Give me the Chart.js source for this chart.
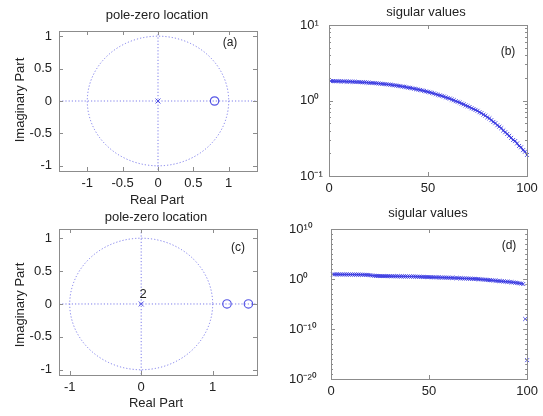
<!DOCTYPE html>
<html>
<head>
<meta charset="utf-8">
<script src="https://cdn.jsdelivr.net/npm/chart.js@4.4.1/dist/chart.umd.min.js"></script>
<style>
  body { margin: 0; background: #fff; }
  #wrap { position: relative; width: 543px; height: 416px; overflow: hidden; }
  #wrap canvas { position: absolute; left: 0; top: 0; }
</style>
</head>
<body>
<div id="wrap">
  <canvas id="pa" width="543" height="416"></canvas>
  <canvas id="pb" width="543" height="416"></canvas>
  <canvas id="pc" width="543" height="416"></canvas>
  <canvas id="pd" width="543" height="416"></canvas>
</div>
<script>
// pole-zero data
const polesA = [[0, 0]];
const zerosA = [[0.8, 0]];
const polesC = [[0, 0]];
const polesCOrder = ['2'];
const zerosC = [[1.2, 0], [1.5, 0]];

// singular values, index 1..100
const svB = [
  1.81, 1.81, 1.80, 1.80, 1.80, 1.79, 1.79, 1.79, 1.78, 1.78,
  1.78, 1.77, 1.77, 1.76, 1.76, 1.75, 1.74, 1.74, 1.73, 1.72,
  1.71, 1.71, 1.70, 1.69, 1.68, 1.67, 1.66, 1.65, 1.64, 1.63,
  1.62, 1.60, 1.59, 1.58, 1.56, 1.55, 1.53, 1.52, 1.50, 1.48,
  1.47, 1.45, 1.43, 1.41, 1.40, 1.38, 1.36, 1.34, 1.32, 1.30,
  1.28, 1.26, 1.24, 1.21, 1.19, 1.17, 1.15, 1.13, 1.10, 1.08,
  1.06, 1.03, 1.01, 0.98, 0.96, 0.94, 0.91, 0.89, 0.86, 0.84,
  0.82, 0.79, 0.77, 0.75, 0.73, 0.70, 0.68, 0.65, 0.63, 0.60,
  0.58, 0.55, 0.52, 0.50, 0.47, 0.45, 0.43, 0.40, 0.38, 0.36,
  0.34, 0.32, 0.30, 0.29, 0.27, 0.25, 0.24, 0.22, 0.21, 0.19
];
const svD = [
  8.5, 8.4, 8.4, 8.3, 8.2, 8.2, 8.1, 8.0, 7.9, 7.8,
  7.7, 7.6, 7.5, 7.4, 7.3, 7.1, 6.9, 6.7, 6.3, 5.8,
  5.0, 4.5, 4.2, 4.0, 3.9, 3.9, 3.8, 3.8, 3.7, 3.7,
  3.6, 3.6, 3.5, 3.5, 3.4, 3.4, 3.3, 3.3, 3.2, 3.2,
  3.1, 3.1, 3.0, 2.9, 2.8, 2.7, 2.6, 2.5, 2.5, 2.4,
  2.3, 2.3, 2.2, 2.1, 2.1, 2.0, 1.95, 1.9, 1.85, 1.8,
  1.75, 1.7, 1.6, 1.55, 1.5, 1.4, 1.35, 1.3, 1.25, 1.2,
  1.15, 1.1, 1.05, 1.0, 0.95, 0.88, 0.82, 0.76, 0.7, 0.64,
  0.6, 0.55, 0.5, 0.46, 0.42, 0.39, 0.36, 0.33, 0.3, 0.28,
  0.26, 0.23, 0.21, 0.18, 0.16, 0.14, 0.12, 0.1
];
const svDTailIdx = [99, 100];
const svDTail = [1e-8, 6e-17];

// tick labels
const ticksAX = [-1, -0.5, 0, 0.5, 1];
const ticksAY = [-1, -0.5, 0, 0.5, 1];
const ticksCX = [-1, 0, 1];
const ticksCY = [-1, -0.5, 0, 0.5, 1];
const ticksSvX = [0, 50, 100];
const ticksBY = [0.1, 1, 10];
const ticksDY = [1e-20, 1e-10, 1, 1e10];
const minorBY = [0.2, 0.3, 0.4, 0.5, 0.6, 0.7, 0.8, 0.9, 2, 3, 4, 5, 6, 7, 8, 9];
const minorDY = [];
for (let e = -19; e <= 9; e++) if (e % 10 !== 0) minorDY.push(Math.pow(10, e));

const BLUE = 'rgba(55, 55, 225, 0.85)';
const DOT = 'rgba(95, 95, 230, 0.8)';
const FRAME = '#8c8c8c';
const TXT = '#222';
const FONT = "'Liberation Sans', Arial, sans-serif";

const SUP = {'-': '\u207B', '0': '\u2070', '1': '\u00B9', '2': '\u00B2', '3': '\u00B3',
  '4': '\u2074', '5': '\u2075', '6': '\u2076', '7': '\u2077', '8': '\u2078', '9': '\u2079'};
function pow10(v) {
  const e = Math.round(Math.log10(v));
  return '10' + String(e).split('').map(c => SUP[c]).join('');
}

const toXY = pts => pts.map(p => ({x: p[0], y: p[1]}));

// matlab-like frame, inward ticks, titles and reference lines
const matlab = {
  id: 'matlab',
  beforeDatasetsDraw(chart, args, o) {
    if (!o.unitCircle) return;
    const {ctx, chartArea: a, scales: {x, y}} = chart;
    const cx = x.getPixelForValue(0), cy = y.getPixelForValue(0);
    ctx.save();
    ctx.strokeStyle = DOT;
    ctx.lineWidth = 1;
    ctx.setLineDash([1.2, 2]);
    ctx.beginPath();
    ctx.ellipse(cx, cy, x.getPixelForValue(1) - cx, cy - y.getPixelForValue(1), 0, 0, Math.PI * 2);
    ctx.moveTo(a.left, cy); ctx.lineTo(a.right, cy);
    ctx.moveTo(cx, a.top); ctx.lineTo(cx, a.bottom);
    ctx.stroke();
    ctx.restore();
  },
  afterDraw(chart, args, o) {
    const {ctx, chartArea: a, scales: {x, y}} = chart;
    ctx.save();
    ctx.strokeStyle = FRAME;
    ctx.lineWidth = 1;
    ctx.strokeRect(Math.round(a.left) + 0.5, Math.round(a.top) + 0.5,
      Math.round(a.right - a.left), Math.round(a.bottom - a.top));
    ctx.beginPath();
    const tick = (vals, len) => {
      vals.forEach(v => {
        const px = Math.round(x.getPixelForValue(v)) + 0.5;
        ctx.moveTo(px, a.top); ctx.lineTo(px, a.top + len);
        ctx.moveTo(px, a.bottom); ctx.lineTo(px, a.bottom - len);
      });
    };
    const tickY = (vals, len) => {
      vals.forEach(v => {
        const py = Math.round(y.getPixelForValue(v)) + 0.5;
        ctx.moveTo(a.left, py); ctx.lineTo(a.left + len, py);
        ctx.moveTo(a.right, py); ctx.lineTo(a.right - len, py);
      });
    };
    tick(x.ticks.map(t => t.value), 4);
    tickY(y.ticks.map(t => t.value), 4);
    if (o.minorY) tickY(o.minorY, 2);
    ctx.stroke();

    ctx.fillStyle = TXT;
    ctx.textAlign = 'center';
    ctx.textBaseline = 'middle';
    ctx.font = '13px ' + FONT;
    ctx.fillText(o.title[0], o.title[1], o.title[2]);
    if (o.xTitle) ctx.fillText(o.xTitle[0], o.xTitle[1], o.xTitle[2]);
    ctx.font = '12px ' + FONT;
    ctx.fillText(o.label[0], o.label[1], o.label[2]);
    if (o.note) {
      ctx.font = '13px ' + FONT;
      o.note.forEach(n => ctx.fillText(n[0], x.getPixelForValue(n[1]) + 2, y.getPixelForValue(n[2]) - 10));
    }
    if (o.yTitle) {
      ctx.font = '13px ' + FONT;
      ctx.translate(o.yTitle[1], o.yTitle[2]);
      ctx.rotate(-Math.PI / 2);
      ctx.fillText(o.yTitle[0], 0, 0);
    }
    ctx.restore();
  }
};

function axes(area, yLeft, xTicks, yTicks, yType, yFmt, xr, yr) {
  return {
    x: {
      type: 'linear', min: xr[0], max: xr[1],
      grid: {display: false, drawTicks: false}, border: {display: false},
      afterBuildTicks: s => { s.ticks = xTicks.map(v => ({value: v})); },
      afterFit: s => { s.height = 30; },
      ticks: {autoSkip: false, maxRotation: 0, padding: 5, color: TXT,
        font: {size: 13, family: FONT}, callback: v => String(v)}
    },
    y: {
      type: yType, min: yr[0], max: yr[1],
      grid: {display: false, drawTicks: false}, border: {display: false},
      afterBuildTicks: s => { s.ticks = yTicks.map(v => ({value: v})); },
      afterFit: s => { s.width = area.l - yLeft; },
      ticks: {autoSkip: false, padding: 7, crossAlign: yType === 'logarithmic' ? 'far' : 'near',
        color: TXT, font: {size: 13, family: FONT}, callback: yFmt}
    }
  };
}

function frame(area, yLeft) {
  return {padding: {left: yLeft, top: area.t, right: 543 - area.r, bottom: 416 - area.b - 30}};
}

function pzChart(id, area, poles, zeros, xTicks, yTicks, xr, yr, text) {
  return new Chart(document.getElementById(id), {
    type: 'scatter',
    data: {
      datasets: [
        {data: toXY(poles), pointStyle: 'crossRot', pointRadius: 3.5, borderColor: BLUE, borderWidth: 1},
        {data: toXY(zeros), pointStyle: 'circle', pointRadius: 4.2, borderColor: BLUE,
          backgroundColor: 'rgba(0,0,0,0)', borderWidth: 1.2, clip: false}
      ]
    },
    options: {
      responsive: false, animation: false, events: [],
      layout: frame(area, 10),
      scales: axes(area, 10, xTicks, yTicks, 'linear', v => String(v), xr, yr),
      plugins: {legend: {display: false}, tooltip: {enabled: false}, matlab: Object.assign({unitCircle: true}, text)}
    },
    plugins: [matlab]
  });
}

function svChart(id, area, yLeft, sets, yTicks, yr, text) {
  return new Chart(document.getElementById(id), {
    type: 'line',
    data: {datasets: sets},
    options: {
      responsive: false, animation: false, events: [],
      layout: frame(area, yLeft),
      scales: axes(area, yLeft, ticksSvX, yTicks, 'logarithmic', v => pow10(v), [0, 100], yr),
      plugins: {legend: {display: false}, tooltip: {enabled: false}, matlab: text}
    },
    plugins: [matlab]
  });
}

const svStyle = {borderColor: BLUE, borderWidth: 1.6, pointStyle: 'crossRot', pointRadius: 2.8,
  pointBorderWidth: 1, pointBorderColor: BLUE, tension: 0, clip: false};

const areaA = {l: 59, t: 31, r: 257, b: 171};
const areaB = {l: 329, t: 25, r: 527, b: 176};
const areaC = {l: 59, t: 229, r: 257, b: 375};
const areaD = {l: 331, t: 229, r: 528, b: 379};

pzChart('pa', areaA, polesA, zerosA, ticksAX, ticksAY, [-1.4, 1.4], [-1.08, 1.08], {
  title: ['pole-zero location', 157, 15], label: ['(a)', 230, 43],
  xTitle: ['Real Part', 157, 200], yTitle: ['Imaginary Part', 20, 100]
});

svChart('pb', areaB, 300, [
  Object.assign({data: svB.map((v, i) => ({x: i + 1, y: v}))}, svStyle)
], ticksBY, [0.1, 10], {
  title: ['sigular values', 426, 12], label: ['(b)', 508, 52], minorY: minorBY
});

pzChart('pc', areaC, polesC, zerosC, ticksCX, ticksCY, [-1.15, 1.62], [-1.08, 1.14], {
  title: ['pole-zero location', 156, 217], label: ['(c)', 238, 248],
  xTitle: ['Real Part', 156, 403], yTitle: ['Imaginary Part', 20, 305],
  note: polesC.map((p, i) => [polesCOrder[i], p[0], p[1]])
});

svChart('pd', areaD, 289, [
  Object.assign({data: svD.map((v, i) => ({x: i + 1, y: v}))}, svStyle),
  Object.assign({data: svDTail.map((v, i) => ({x: svDTailIdx[i], y: v})), showLine: false}, svStyle)
], ticksDY, [1e-20, 1e10], {
  title: ['sigular values', 428, 213], label: ['(d)', 509, 246], minorY: minorDY
});
</script>
</body>
</html>
